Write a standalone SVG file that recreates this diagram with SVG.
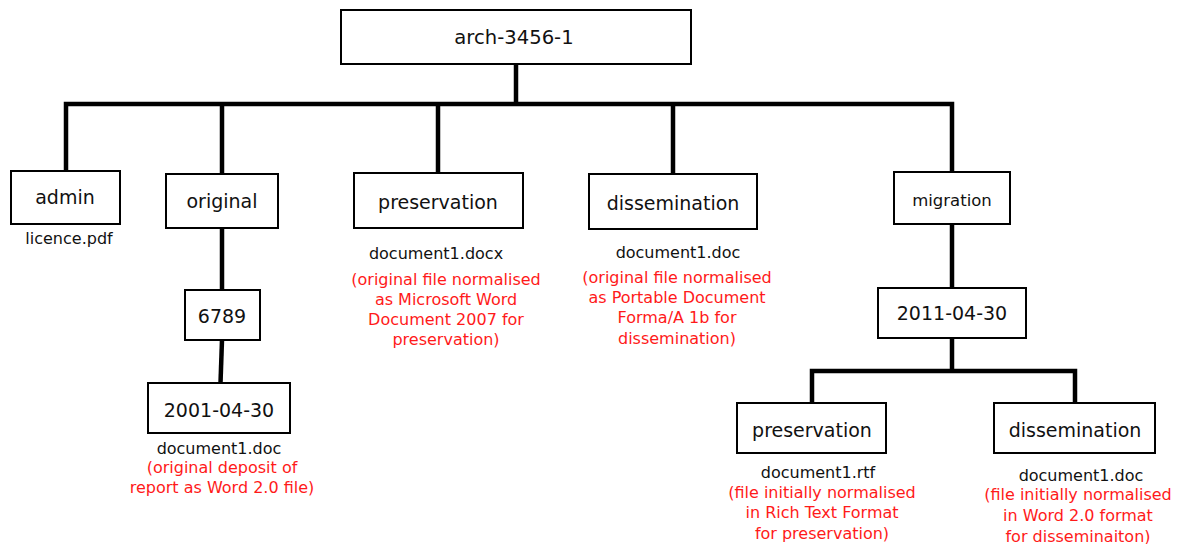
<svg xmlns="http://www.w3.org/2000/svg" width="1178" height="544" viewBox="0 0 1178 544">
<style>
  .box { fill: #fff; stroke: #000; stroke-width: 2; }
  .lbl { font-family: "DejaVu Sans", Verdana, sans-serif; font-size: 19px; fill: #111; text-anchor: middle; }
  .file { font-family: "DejaVu Sans", Verdana, sans-serif; font-size: 16px; fill: #111; text-anchor: middle; }
  .note { font-family: "DejaVu Sans", Verdana, sans-serif; font-size: 16px; fill: #ff1a1a; text-anchor: middle; }
  .conn { fill: none; stroke: #000; stroke-width: 4.5; stroke-linejoin: miter; stroke-linecap: butt; }
</style>
<rect width="1178" height="544" fill="#fff"/>
<g id="connectors">
  <path class="conn" d="M516 64 V104"/>
  <path class="conn" d="M66 171 V104 H952 V172"/>
  <path class="conn" d="M222 104 V174"/>
  <path class="conn" d="M438 104 V173"/>
  <path class="conn" d="M673 104 V174"/>
  <path class="conn" d="M222 228 V290"/>
  <path class="conn" d="M222 340 L220.5 383"/>
  <path class="conn" d="M952 224 V288"/>
  <path class="conn" d="M952 338 V371"/>
  <path class="conn" d="M812 403 V371 H1075 V403"/>
</g>
<g id="root">
  <rect class="box" x="341" y="10" width="350" height="54"/>
  <text class="lbl" x="514" y="44" style="font-size:19.6px">arch-3456-1</text>
</g>
<g id="admin">
  <rect class="box" x="11" y="171" width="109" height="53"/>
  <text class="lbl" x="65" y="204">admin</text>
  <text class="file" x="69" y="244">licence.pdf</text>
</g>
<g id="original">
  <rect class="box" x="166" y="174" width="112" height="54"/>
  <text class="lbl" x="222" y="208">original</text>
</g>
<g id="preservation">
  <rect class="box" x="354" y="173" width="169" height="55"/>
  <text class="lbl" x="438" y="209">preservation</text>
  <text class="file" x="436" y="259">document1.docx</text>
  <text class="note" x="446" y="285">(original file normalised</text>
  <text class="note" x="446" y="305">as Microsoft Word</text>
  <text class="note" x="446" y="325">Document 2007 for</text>
  <text class="note" x="446" y="345">preservation)</text>
</g>
<g id="dissemination">
  <rect class="box" x="589" y="174" width="168" height="55"/>
  <text class="lbl" x="673" y="210">dissemination</text>
  <text class="file" x="678" y="258">document1.doc</text>
  <text class="note" x="677" y="283">(original file normalised</text>
  <text class="note" x="677" y="303">as Portable Document</text>
  <text class="note" x="677" y="323">Forma/A 1b for</text>
  <text class="note" x="677" y="344">dissemination)</text>
</g>
<g id="migration">
  <rect class="box" x="894" y="172" width="116" height="52"/>
  <text class="lbl" x="952" y="206" style="font-size:16.5px">migration</text>
</g>
<g id="n6789">
  <rect class="box" x="185" y="290" width="75" height="50"/>
  <text class="lbl" x="222" y="323">6789</text>
</g>
<g id="d2001">
  <rect class="box" x="148" y="383" width="142" height="50"/>
  <text class="lbl" x="219" y="417">2001-04-30</text>
  <text class="file" x="219" y="454">document1.doc</text>
  <text class="note" x="222" y="473">(original deposit of</text>
  <text class="note" x="222" y="493">report as Word 2.0 file)</text>
</g>
<g id="d2011">
  <rect class="box" x="878" y="288" width="148" height="50"/>
  <text class="lbl" x="952" y="320">2011-04-30</text>
</g>
<g id="mig-preservation">
  <rect class="box" x="737" y="403" width="149" height="50"/>
  <text class="lbl" x="812" y="437">preservation</text>
  <text class="file" x="818" y="478">document1.rtf</text>
  <text class="note" x="822" y="498">(file initially  normalised</text>
  <text class="note" x="822" y="518">in Rich Text Format</text>
  <text class="note" x="822" y="539">for preservation)</text>
</g>
<g id="mig-dissemination">
  <rect class="box" x="994" y="403" width="161" height="50"/>
  <text class="lbl" x="1075" y="437">dissemination</text>
  <text class="file" x="1081" y="481">document1.doc</text>
  <text class="note" x="1078" y="500">(file initially normalised</text>
  <text class="note" x="1078" y="521">in Word 2.0 format</text>
  <text class="note" x="1078" y="542">for disseminaiton)</text>
</g>
</svg>
